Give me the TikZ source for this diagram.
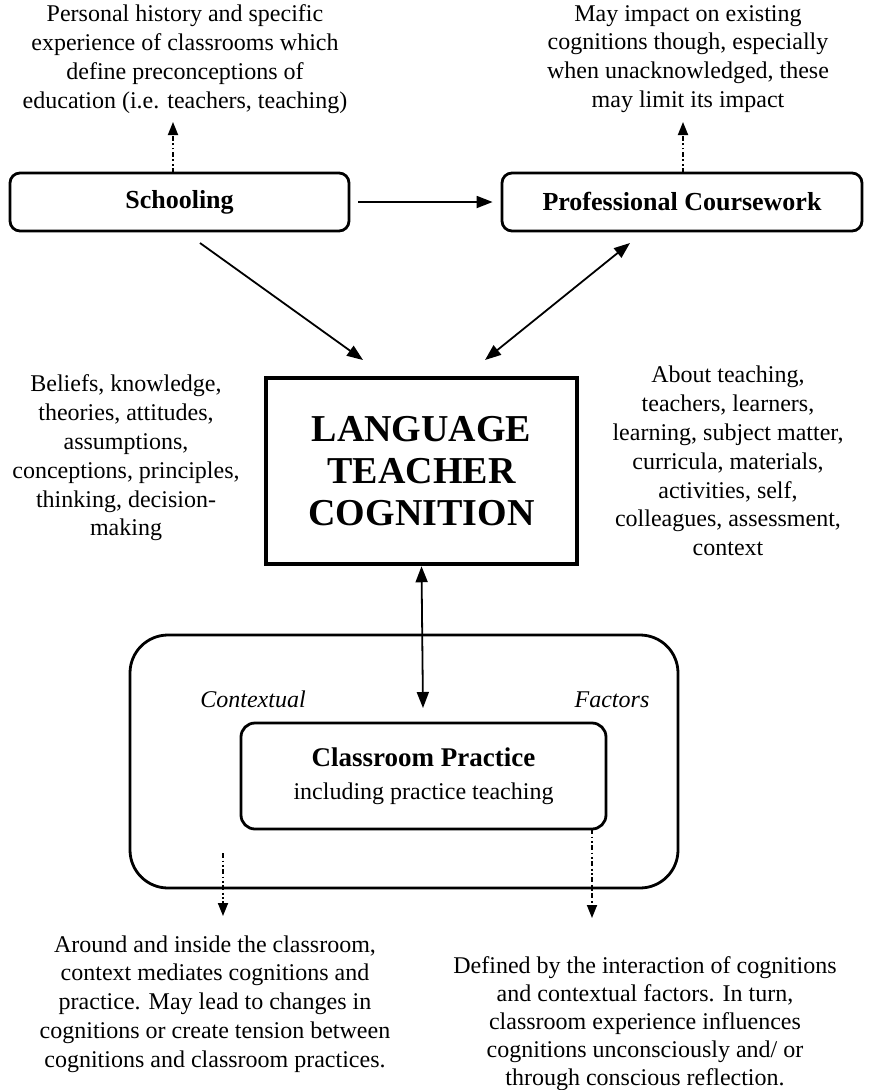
\documentclass[tikz,border=0pt]{standalone}
\usepackage{fontspec}
\setmainfont{Liberation Serif}
\usetikzlibrary{arrows.meta,calc}
\tikzset{
  txt/.style={align=center, font=\fontsize{24}{28.8}\selectfont, inner sep=0pt},
  rbox/.style={draw, line width=2.8pt, rounded corners=10pt, inner sep=0pt},
  boxfont/.style={font=\fontsize{26}{30}\selectfont\bfseries},
  ital/.style={font=\fontsize{24}{28}\selectfont\itshape, inner sep=0pt, anchor=base},
  arr/.style={line width=1.8pt, -{Triangle[length=16pt,width=12pt]}},
  darr/.style={line width=1.8pt, {Triangle[length=16pt,width=12pt]}-{Triangle[length=16pt,width=12pt]}},
  ddarr/.style={line width=1.8pt, -{Triangle[length=13pt,width=10pt]}, dash pattern=on 5pt off 2.5pt on 1.8pt off 2.5pt on 1.8pt off 2.5pt},
}
\begin{document}
\begin{tikzpicture}[x=1pt,y=-1pt]
\useasboundingbox (0,0) rectangle (874,1090);

% boxes
\node[rbox, boxfont, minimum width=339pt, minimum height=58pt] (school) at (179.5,202) {Schooling};
\node[rbox, boxfont, minimum width=360pt, minimum height=58pt] (prof) at (682,202) {Professional Coursework};
\node[draw, line width=4.5pt, minimum width=311pt, minimum height=186pt, align=center, inner sep=0pt, font=\fontsize{38}{42}\selectfont\bfseries] (ltc) at (421.5,471) {LANGUAGE\\TEACHER\\COGNITION};
\node[draw, line width=2.8pt, rounded corners=38pt, minimum width=548pt, minimum height=253pt, inner sep=0pt] (context) at (404,761.5) {};
\node[rbox, rounded corners=14pt, minimum width=365pt, minimum height=106pt, align=center, font=\fontsize{24}{33}\selectfont] (class) at (423.5,776)
  {{\fontsize{27}{32}\selectfont\bfseries Classroom Practice}\\including practice teaching};

% labels
\node[ital] (ctx) at (253,707) {Contextual};
\node[ital] (fac) at (612,707) {Factors};

\node[txt] (tl) at (185,59) {Personal history and specific\\experience of classrooms which\\define preconceptions of\\education (i.e. teachers, teaching)};
\node[txt] (tr) at (688,59) {May impact on existing\\cognitions though, especially\\when unacknowledged, these\\may limit its impact};
\node[txt] (ls) at (126,458) {Beliefs, knowledge,\\theories, attitudes,\\assumptions,\\conceptions, principles,\\thinking, decision-\\making};
\node[txt] (rs) at (728,461) {About teaching,\\teachers, learners,\\learning, subject matter,\\curricula, materials,\\activities, self,\\colleagues, assessment,\\context};
\node[txt] (bl) at (215,1004) {Around and inside the classroom,\\context mediates cognitions and\\practice. May lead to changes in\\cognitions or create tension between\\cognitions and classroom practices.};
\node[txt, font=\fontsize{24}{28}\selectfont] (br) at (645,1024) {Defined by the interaction of cognitions\\and contextual factors. In turn,\\classroom experience influences\\cognitions unconsciously and/ or\\through conscious reflection.};

% connector end points
\coordinate (s1) at (200,243);
\coordinate (l1) at (363,360);
\coordinate (p1) at (630,243);
\coordinate (l2) at (485,360);
\coordinate (c1) at (423,708);
\coordinate (st) at (173,173);
\coordinate (stt) at (173,122);
\coordinate (pt) at (683,173);
\coordinate (ptt) at (683,122);
\coordinate (cb1) at (223,853);
\coordinate (cb1e) at (223,916);
\coordinate (cb2) at (592,829);
\coordinate (cb2e) at (592,918);

% connectors
\draw[arr] ($(school.east)+(8,0)$) -- ($(prof.west)+(-8,0)$);
\draw[arr] (s1) -- (l1);
\draw[darr] (l2) -- (p1);
\draw[darr] (ltc.south) -- (c1);
\draw[ddarr] (st) -- (stt);
\draw[ddarr] (pt) -- (ptt);
\draw[ddarr] (cb1) -- (cb1e);
\draw[ddarr] (cb2) -- (cb2e);
\end{tikzpicture}
\end{document}
